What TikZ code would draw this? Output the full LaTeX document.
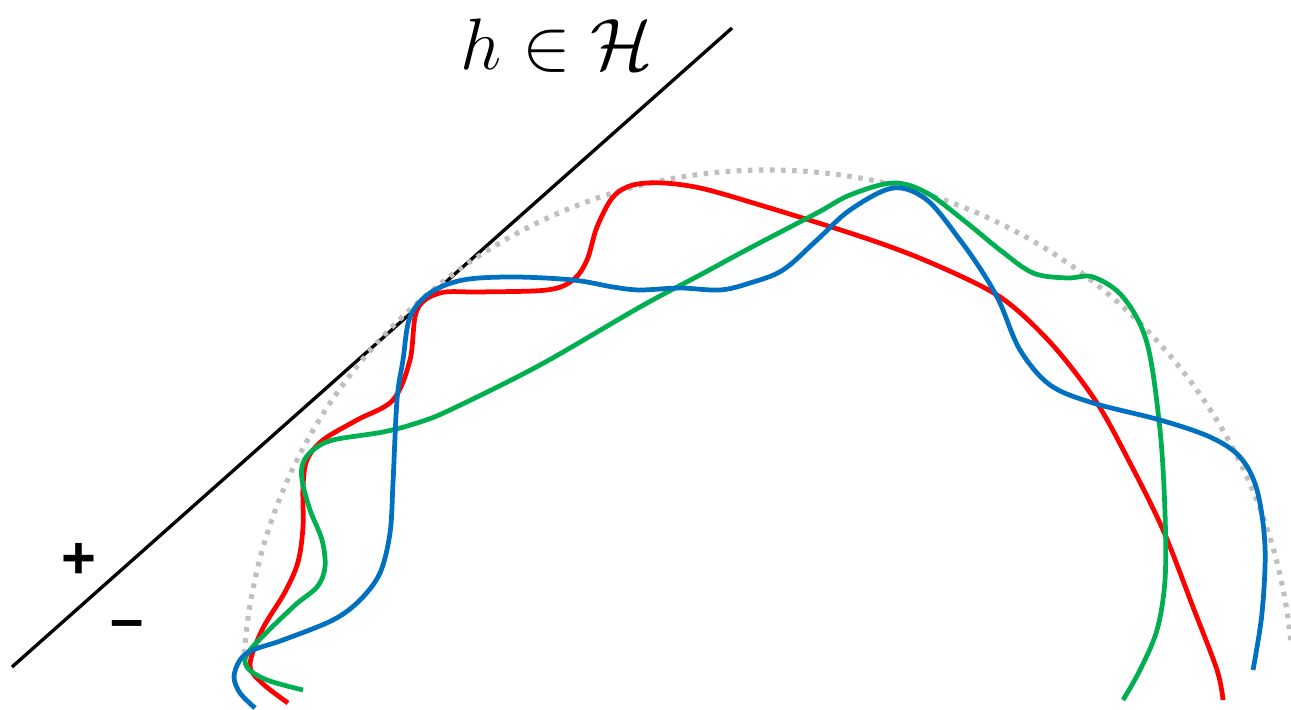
\documentclass[tikz,border=0pt]{standalone}
\usepackage{amsmath}
\usepackage{amssymb}
\usepackage{fontspec}
\newfontfamily\signfont{Liberation Sans}
\usepackage{tikz}
\usetikzlibrary{positioning}

\definecolor{cred}{RGB}{255,0,0}
\definecolor{cgreen}{RGB}{0,176,80}
\definecolor{cblue}{RGB}{0,112,192}
\definecolor{cgray}{RGB}{191,191,191}

\begin{document}
\begin{tikzpicture}[x=0.01cm,y=-0.01cm]
  \tikzstyle{hyp}=[black,line width=0.95pt]
  \tikzstyle{bound}=[cgray,line width=1.45pt,dash pattern=on 1.3pt off 1.85pt]
  \tikzstyle{fit}=[line width=1.35pt,smooth,tension=0.55]
  \tikzstyle{sign}=[font=\signfont\bfseries\fontsize{17}{20}\selectfont,inner sep=0pt]
  \clip (0,0) rectangle (1291,710);

  % hypothesis line and its label
  \coordinate (hlo) at (12,667);
  \coordinate (hhi) at (732,28);
  \draw[hyp] (hlo) -- (hhi);
  \node[anchor=base] (lbl) at (557,70) {\fontsize{22.5}{27}\selectfont$h \in \mathcal{H}$};
  \node[sign] (pos) at (79,561) {+};
  \node[sign] (neg) at (127,630) {–};

  % dotted outer boundary
  \draw[bound] (768,690) ++(184:525 and 520) arc[start angle=184,end angle=355,x radius=525,y radius=520];

  % red
  \draw[fit,cred] plot coordinates {(288,703) (262,683) (250,665) (262,630) (285,592)
    (298,562) (303,527) (303,487) (307,460) (323,440) (357,420) (393,400) (410,360)
    (417,310) (440,293) (480,292) (547,290) (573,280) (587,260) (597,227) (613,197)
    (633,185) (663,183) (700,188) (750,202) (850,233) (917,257) (983,287) (1017,310)
    (1057,350) (1097,403) (1130,463) (1163,530) (1193,607) (1217,670) (1223,700)};

  % green
  \draw[fit,cgreen] plot coordinates {(303,690) (267,680) (247,667) (250,650) (293,607)
    (317,587) (325,567) (322,540) (310,510) (302,480) (303,463) (313,450) (333,440)
    (383,432) (417,423) (450,410) (540,365) (640,307) (700,275) (750,248) (817,213)
    (850,195) (893,183) (927,193) (967,223) (1000,250) (1033,273) (1067,278) (1093,277)
    (1123,297) (1147,343) (1160,430) (1165,513) (1165,580) (1157,630) (1140,670) (1123,700)};

  % blue
  \draw[fit,cblue] plot coordinates {(255,708) (240,693) (234,677) (240,660) (253,650)
    (283,640) (333,620) (360,600) (380,573) (390,533) (393,483) (397,400) (403,360)
    (410,317) (430,293) (463,280) (513,277) (573,280) (613,287) (640,290) (680,288)
    (720,290) (750,283) (783,270) (817,240) (850,210) (893,188) (927,200) (960,240)
    (983,273) (1000,303) (1020,350) (1050,385) (1093,403) (1160,420) (1210,437)
    (1240,457) (1257,490) (1265,547) (1262,613) (1253,670)};
\end{tikzpicture}
\end{document}
